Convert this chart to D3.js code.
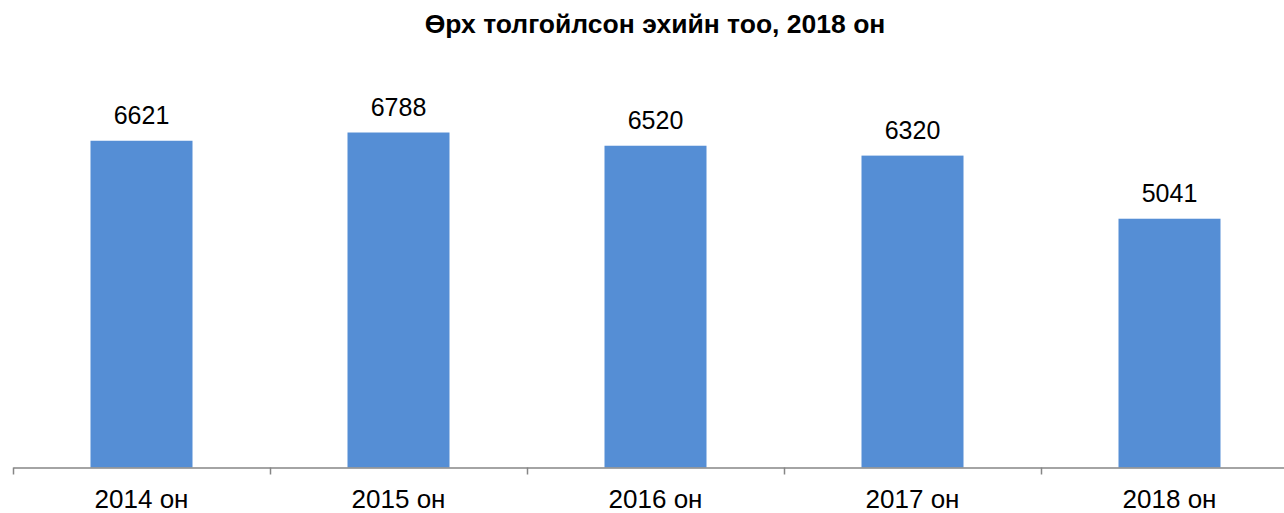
<!DOCTYPE html>
<html>
<head>
<meta charset="utf-8">
<script src="https://cdn.jsdelivr.net/npm/d3@7"></script>
<style>
  body { margin: 0; background: #fff; }
  svg { display: block; font-family: "Liberation Sans", Arial, sans-serif; }
</style>
</head>
<body>
<div class="chart"></div>
<script>
let width = 1284
let height = 513

// data
let categories = ['2014 он', '2015 он', '2016 он', '2017 он', '2018 он']
let values = [6621, 6788, 6520, 6320, 5041]
let title = 'Өрх толгойлсон эхийн тоо, 2018 он'

let baseY = 467.5
let x = d3.scaleBand()
    .domain(categories)
    .range([13, 13 + 257 * categories.length])
    .padding(0)
let y = d3.scaleLinear()
    .domain([0, 8000])
    .range([baseY, baseY - 394.8])

let barW = 102

let svg = d3.select('div.chart')
    .append('svg')
    .attr('width', width)
    .attr('height', height)

svg.append('text')
    .attr('x', 655)
    .attr('y', 33)
    .attr('text-anchor', 'middle')
    .style('font-weight', 'bold')
    .style('font-size', '26.5px')
    .style('fill', '#000')
    .text(title)

// bars
svg.selectAll('rect.bar')
    .data(values)
    .enter()
    .append('rect')
    .attr('class', 'bar')
    .attr('x', (d, i) => x(categories[i]) + x.bandwidth() / 2 - barW / 2)
    .attr('y', d => y(d))
    .attr('width', barW)
    .attr('height', d => baseY - y(d))
    .style('fill', '#558ED5')

// value labels
svg.selectAll('text.val')
    .data(values)
    .enter()
    .append('text')
    .attr('class', 'val')
    .attr('x', (d, i) => x(categories[i]) + x.bandwidth() / 2)
    .attr('y', d => y(d) - 17)
    .attr('text-anchor', 'middle')
    .style('font-size', '25px')
    .style('fill', '#000')
    .text(d => d)

// category axis
let axis = d3.axisBottom(x).tickSize(0).tickPadding(0)
let g = svg.append('g')
    .attr('transform', 'translate(0,' + baseY + ')')
    .call(axis)
g.select('.domain').attr('stroke', '#868686').attr('stroke-width', 1.5)
g.selectAll('.tick text')
    .attr('y', 40.5)
    .attr('dy', 0)
    .style('font-size', '26px')
    .style('font-family', '"Liberation Sans", Arial, sans-serif')
    .style('fill', '#000')

// tick marks between categories
g.selectAll('line.sep')
    .data(categories)
    .enter()
    .append('line')
    .attr('class', 'sep')
    .attr('x1', d => x(d) + 0.5)
    .attr('x2', d => x(d) + 0.5)
    .attr('y1', 0)
    .attr('y2', 7)
    .attr('stroke', '#868686')
    .attr('stroke-width', 1.5)
</script>
</body>
</html>
